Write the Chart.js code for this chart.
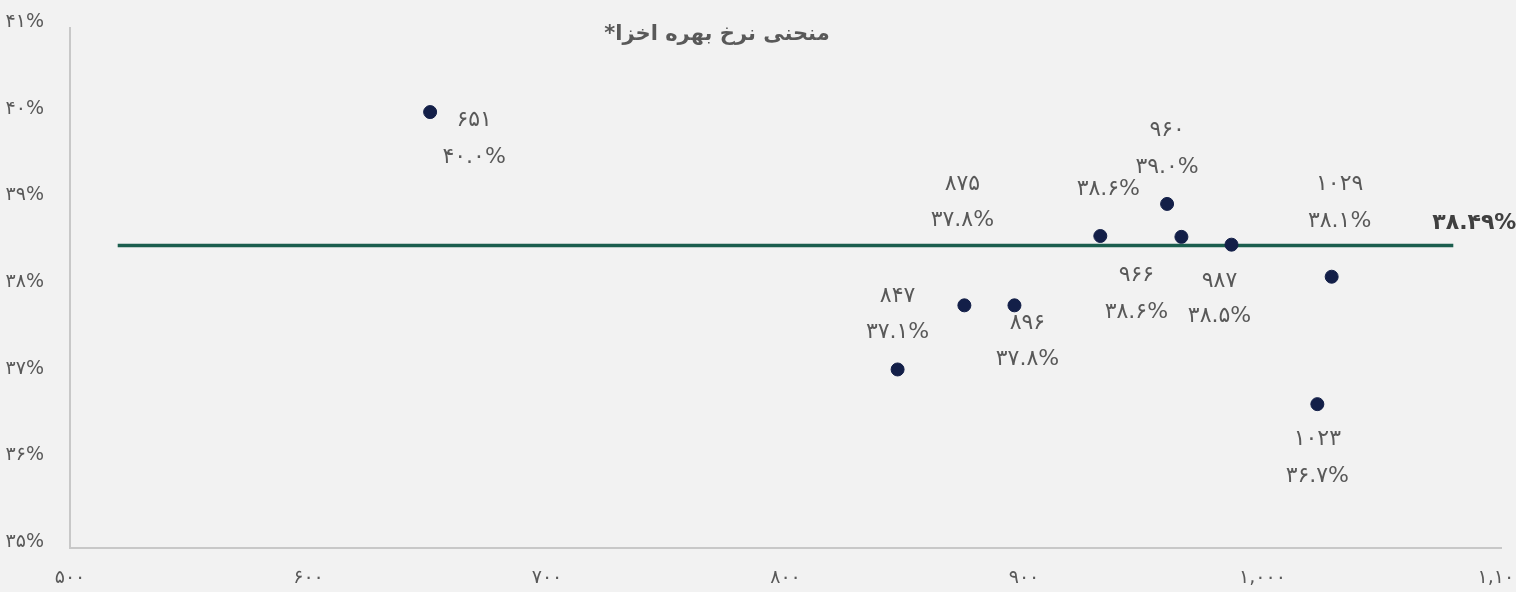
<!DOCTYPE html>
<html>
<head>
<meta charset="utf-8">
<script src="https://cdn.jsdelivr.net/npm/chart.js@4.4.1/dist/chart.umd.min.js"></script>
<style>
  html, body { margin: 0; padding: 0; background: #f2f2f2; }
  #wrap { position: relative; width: 1516px; height: 592px; }
</style>
</head>
<body>
<div id="wrap"><canvas id="chart-curve"></canvas></div>
<script>
const chartTitle = "منحنی نرخ بهره اخزا*";
// days to maturity and yield (%) for each bond
const maturityDays = [651, 847, 875, 896, 932, 960, 966, 987, 1023, 1029];
const yieldRates = [40.03, 37.06, 37.8, 37.8, 38.6, 38.97, 38.59, 38.5, 36.66, 38.13];
const averageRate = 38.49;
const averageSpan = [520, 1080];
const xTicks = [500, 600, 700, 800, 900, 1000, 1100];
const yTicks = [35, 36, 37, 38, 39, 40, 41];

const fontFamily = "'DejaVu Sans', sans-serif";
const faDigits = "۰۱۲۳۴۵۶۷۸۹";
function toFa(s) {
  return String(s).replace(/[0-9]/g, (d) => faDigits[d]);
}

// where each point's two-line label sits, relative to the point
const labelOffsets = [
  { dx: 44, dyX: 8, dyY: 45 },
  { dx: 0, dyX: -73, dyY: -37 },
  { dx: -2, dyX: -121, dyY: -85 },
  { dx: 13, dyX: 18, dyY: 54 },
  { dx: 8, dyX: null, dyY: -47 },
  { dx: 0, dyX: -74, dyY: -37 },
  { dx: -45, dyX: 38, dyY: 75 },
  { dx: -12, dyX: 37, dyY: 72 },
  { dx: 0, dyX: 35, dyY: 72 },
  { dx: 8, dyX: -92, dyY: -55 },
];

const labelPlugin = {
  id: "pointLabels",
  afterDatasetsDraw(chart) {
    const ctx = chart.ctx;
    const meta = chart.getDatasetMeta(0);
    ctx.save();
    ctx.font = "22px " + fontFamily;
    ctx.fillStyle = "#595959";
    ctx.textAlign = "center";
    ctx.textBaseline = "middle";
    meta.data.forEach((pt, i) => {
      const o = labelOffsets[i];
      if (o.dyX !== null) {
        ctx.fillText(toFa(maturityDays[i]), pt.x + o.dx, pt.y + o.dyX);
      }
      ctx.fillText(toFa(yieldRates[i].toFixed(1)) + "%", pt.x + o.dx, pt.y + o.dyY);
    });

    const avgMeta = chart.getDatasetMeta(1);
    const end = avgMeta.data[avgMeta.data.length - 1];
    ctx.font = "bold 22px " + fontFamily;
    ctx.fillStyle = "#404040";
    ctx.textAlign = "left";
    ctx.fillText(toFa(averageRate.toFixed(2)) + "%", end.x - 21, end.y - 22);

    ctx.direction = "rtl";
    ctx.font = "bold 21px " + fontFamily;
    ctx.fillStyle = "#595959";
    ctx.textAlign = "center";
    ctx.fillText(chartTitle, 717, 35);
    ctx.restore();
  },
};

const points = maturityDays.map((d, i) => ({ x: d, y: yieldRates[i] }));
const avgLine = averageSpan.map((d) => ({ x: d, y: averageRate }));

const ctx = document.getElementById("chart-curve").getContext("2d");
const myChart = new Chart(ctx, {
  type: "scatter",
  data: {
    datasets: [
      {
        label: "bonds",
        data: points,
        backgroundColor: "#131f48",
        borderColor: "#131f48",
        pointRadius: 6.5,
        pointHoverRadius: 6.5,
      },
      {
        label: "average",
        data: avgLine,
        showLine: true,
        borderColor: "#1b5e4e",
        borderWidth: 3.5,
        pointRadius: 0,
      },
    ],
  },
  options: {
    responsive: true,
    maintainAspectRatio: false,
    animation: false,
    layout: { padding: { top: 28, right: 15, left: 0, bottom: 0 } },
    plugins: {
      legend: { display: false },
      tooltip: { enabled: false },
      title: { display: false },
    },
    scales: {
      x: {
        type: "linear",
        min: 500,
        max: 1100,
        grid: { display: false, drawTicks: false },
        border: { display: true, color: "#c8c8c8", width: 2 },
        ticks: {
          color: "#595959",
          font: { family: fontFamily, size: 19 },
          padding: 19,
          maxRotation: 0,
          callback: (v) => toFa(v.toLocaleString("en-US")),
        },
        afterBuildTicks: (s) => {
          s.ticks = xTicks.map((v) => ({ value: v }));
        },
        afterFit: (s) => {
          s.height = 44;
          s.paddingLeft = 0;
          s.paddingRight = 0;
        },
      },
      y: {
        type: "linear",
        min: 35,
        max: 41,
        grid: { display: false, drawTicks: false },
        border: { display: true, color: "#c8c8c8", width: 2 },
        ticks: {
          color: "#595959",
          font: { family: fontFamily, size: 19 },
          padding: 26,
          labelOffset: -6,
          callback: (v) => toFa(v) + "%",
        },
        afterBuildTicks: (s) => {
          s.ticks = yTicks.map((v) => ({ value: v }));
        },
        afterFit: (s) => {
          s.width = 70;
          s.paddingTop = 0;
          s.paddingBottom = 0;
        },
      },
    },
  },
  plugins: [labelPlugin],
});
</script>
</body>
</html>
